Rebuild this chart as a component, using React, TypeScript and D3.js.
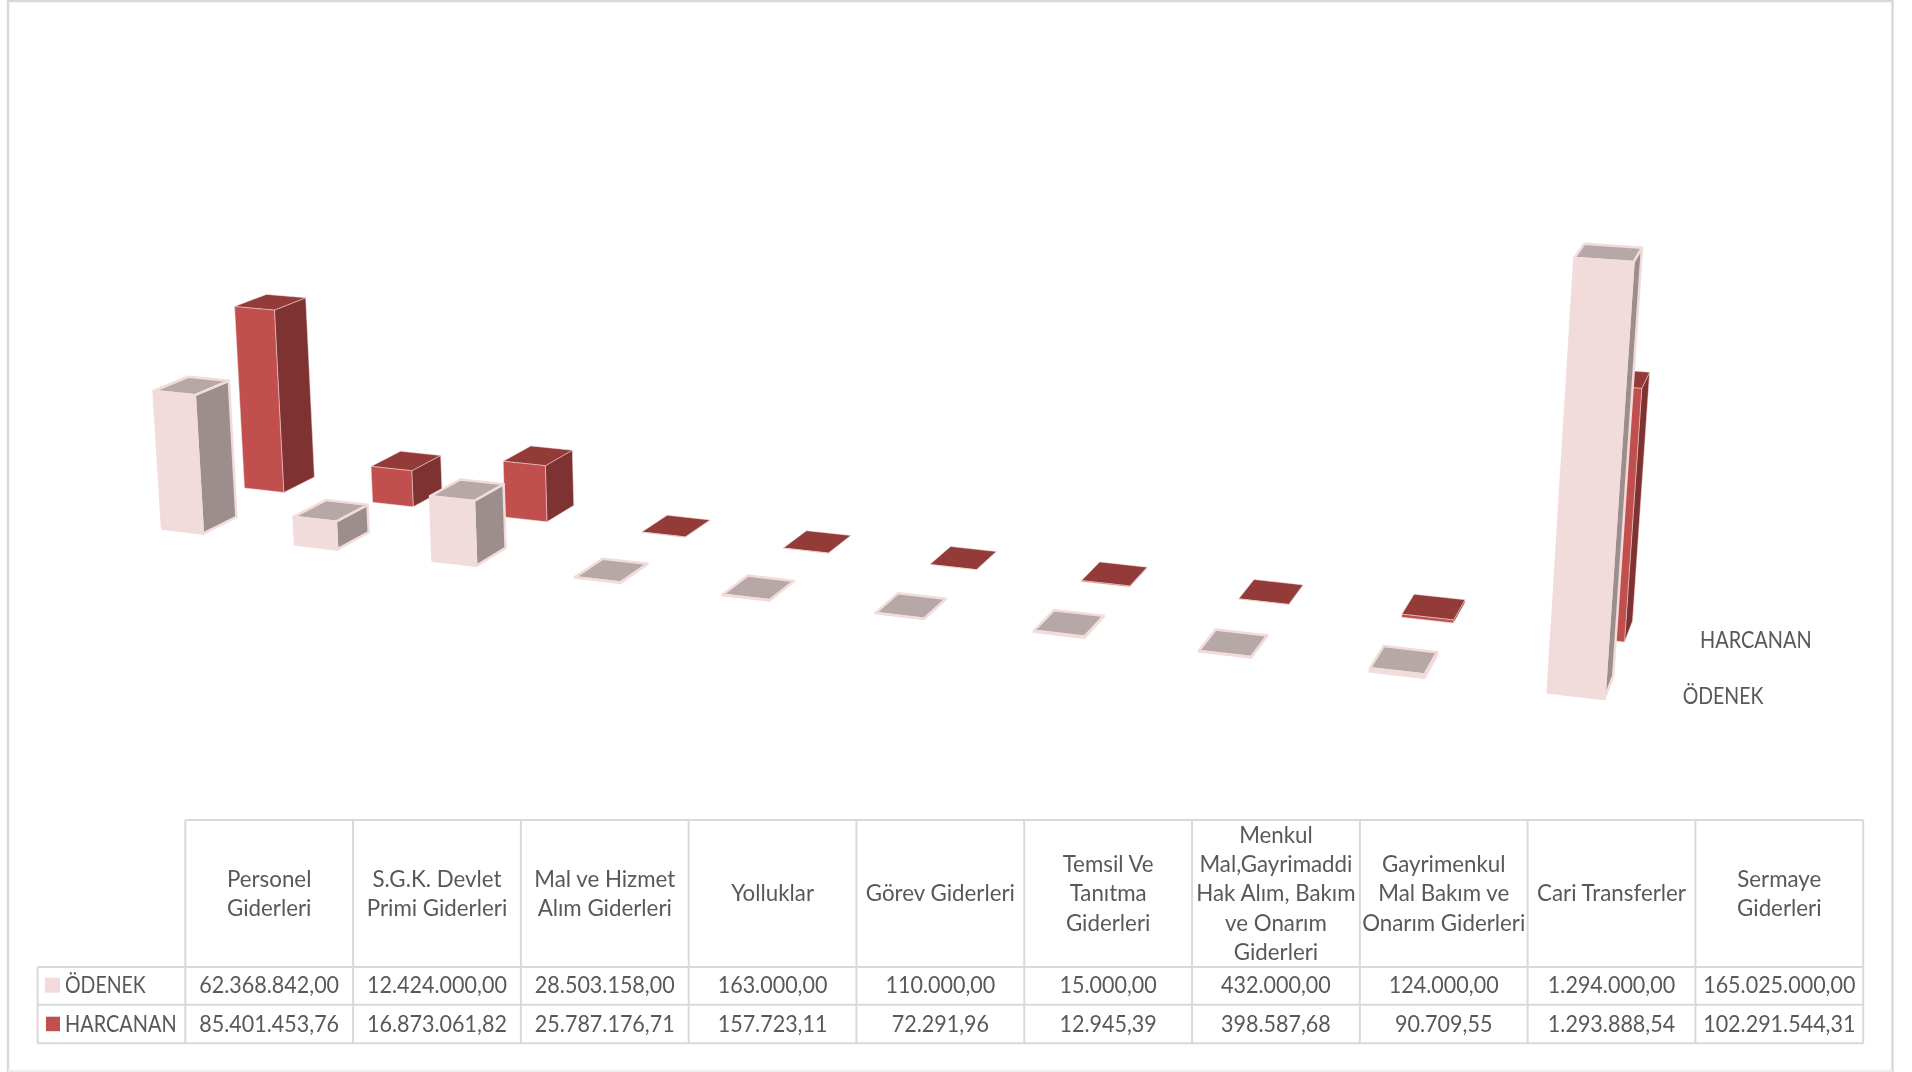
import React from "react";
import * as d3 from "d3";

const categories = [
  ["Personel", "Giderleri"],
  ["S.G.K. Devlet", "Primi Giderleri"],
  ["Mal ve Hizmet", "Alım Giderleri"],
  ["Yolluklar"],
  ["Görev Giderleri"],
  ["Temsil Ve", "Tanıtma", "Giderleri"],
  ["Menkul", "Mal,Gayrimaddi", "Hak Alım, Bakım", "ve Onarım", "Giderleri"],
  ["Gayrimenkul", "Mal Bakım ve", "Onarım Giderleri"],
  ["Cari Transferler"],
  ["Sermaye", "Giderleri"],
];
const categoryKeys = categories.map((c) => c.join(" "));
const odenek = [62368842.0, 12424000.0, 28503158.0, 163000.0, 110000.0, 15000.0, 432000.0, 124000.0, 1294000.0, 165025000.0];
const harcanan = [85401453.76, 16873061.82, 25787176.71, 157723.11, 72291.96, 12945.39, 398587.68, 90709.55, 1293888.54, 102291544.31];
const seriesNames = ["ÖDENEK", "HARCANAN"];

const styles = [
  { front: "#F2DCDB", side: "#9B8E8D", top: "#B7A8A8", stroke: "#F2DCDB", sw: 2.5, inset: 0.008 },
  { front: "#C0504D", side: "#7F3130", top: "#923A38", stroke: "#F2DCDB", sw: 0.5, inset: 0 },
];

// Pinhole camera: world (X category, Y value in millions, Z series depth) to screen
const cam = {
  u: [127.96, -0.1673, 95.74, 160.4],
  v: [6.54, -2.285, -17.77, 529],
  w: [-0.01682, -0.0001935, 0.0476, 1],
};
const project = (X: number, Y: number, Z: number): [number, number] => {
  const d = cam.w[0] * X + cam.w[1] * Y + cam.w[2] * Z + cam.w[3];
  return [
    (cam.u[0] * X + cam.u[1] * Y + cam.u[2] * Z + cam.u[3]) / d,
    (cam.v[0] * X + cam.v[1] * Y + cam.v[2] * Z + cam.v[3]) / d,
  ];
};

const BAR_W = 0.31;
const BAR_D = 0.395;
const xWorld = d3.scalePoint<string>().domain(categoryKeys).range([0, 9]);
const zWorld = d3.scalePoint<string>().domain(seriesNames).range([0, 1]);
const yWorld = d3.scaleLinear().domain([0, 1e6]).range([0, 1]);
const poly = d3.line<[number, number]>().curve(d3.curveLinearClosed);

const fmt = d3.formatLocale({ decimal: ",", thousands: ".", grouping: [3], currency: ["", ""] }).format(",.2f");

const colX = d3.scaleBand<string>().domain(categoryKeys).range([185.3, 1863.2]);
const LEFT = 37.6, T0 = 820, T1 = 967, T2 = 1004.7, T3 = 1043.3;
const LINE = 29.3, MID = 901.2;
const SX_HEAD = 0.93, SX_NUM = 0.897, SX_CAPS = 0.83;
const FONT = "Lato, 'Open Sans', sans-serif";

function Label({ x, y, sx, anchor = "middle", children }: any) {
  return (
    <text transform={`translate(${x},${y}) scale(${sx},1)`} textAnchor={anchor} fontFamily={FONT} fontSize={24} fill="#595959">
      {children}
    </text>
  );
}

function Bar({ cat, series, value }: { cat: string; series: string; value: number }) {
  const s = styles[seriesNames.indexOf(series)];
  const x0 = xWorld(cat)! + s.inset;
  const x1 = x0 + BAR_W;
  const z0 = zWorld(series)! + s.inset;
  const z1 = z0 + BAR_D;
  const h = yWorld(value);
  const f = (pts: [number, number, number][]) => poly(pts.map((p) => project(p[0], p[1], p[2])))!;
  const common = { stroke: s.stroke, strokeWidth: s.sw, strokeLinejoin: "round" as const };
  return (
    <g>
      <path d={f([[x1, 0, z0], [x1, 0, z1], [x1, h, z1], [x1, h, z0]])} fill={s.side} {...common} />
      <path d={f([[x0, h, z0], [x1, h, z0], [x1, h, z1], [x0, h, z1]])} fill={s.top} {...common} />
      <path d={f([[x0, 0, z0], [x1, 0, z0], [x1, h, z0], [x0, h, z0]])} fill={s.front} {...common} />
    </g>
  );
}

export default function App() {
  const grid = "#D9D9D9";
  return (
    <svg width={1912} height={1072} style={{ position: "fixed", left: 0, top: 0, background: "#fff" }}>
      <defs>
        <filter id="soft" x="0" y="0" width="100%" height="100%">
          <feGaussianBlur stdDeviation="0.45" />
        </filter>
      </defs>
      <g filter="url(#soft)">
        <rect width={1912} height={1072} fill="#fff" />
        <g stroke={grid} strokeWidth={2.5} fill="none">
          <line x1={8} y1={0} x2={8} y2={1072} />
          <line x1={1892.5} y1={0} x2={1892.5} y2={1072} />
          <line x1={8} y1={1} x2={1892.5} y2={1} />
          <line x1={8} y1={1071} x2={1892.5} y2={1071} stroke="#EEEEEE" />
        </g>

        {categoryKeys.map((c, i) => <Bar key={c} cat={c} series={seriesNames[1]} value={harcanan[i]} />)}
        {categoryKeys.map((c, i) => <Bar key={c} cat={c} series={seriesNames[0]} value={odenek[i]} />)}

        <Label x={1700} y={647.6} sx={SX_CAPS} anchor="start">HARCANAN</Label>
        <Label x={1682.7} y={703.6} sx={0.812} anchor="start">ÖDENEK</Label>

        <g stroke={grid} strokeWidth={2}>
          <line x1={colX.range()[0]} x2={colX.range()[1]} y1={T0} y2={T0} />
          {[T1, T2, T3].map((y) => <line key={y} x1={LEFT} x2={colX.range()[1]} y1={y} y2={y} />)}
          <line x1={LEFT} x2={LEFT} y1={T1} y2={T3} />
          {categoryKeys.map((c) => <line key={c} x1={colX(c)} x2={colX(c)} y1={T0} y2={T3} />)}
          <line x1={colX.range()[1]} x2={colX.range()[1]} y1={T0} y2={T3} />
        </g>

        {categories.map((lines, i) => {
          const cx = colX(categoryKeys[i])! + colX.bandwidth() / 2;
          return (
            <g key={i}>
              {lines.map((t, k) => (
                <Label key={k} x={cx} sx={SX_HEAD} y={MID + (k - (lines.length - 1) / 2) * LINE}>{t}</Label>
              ))}
              <Label x={cx} sx={SX_NUM} y={993.4}>{fmt(odenek[i])}</Label>
              <Label x={cx} sx={SX_NUM} y={1031.6}>{fmt(harcanan[i])}</Label>
            </g>
          );
        })}

        <rect x={45} y={977.7} width={15} height={15} fill={styles[0].front} />
        <rect x={46} y={1016.7} width={14} height={14.5} fill={styles[1].front} />
        <Label x={65} y={992.6} sx={0.812} anchor="start">{seriesNames[0]}</Label>
        <Label x={65} y={1031.6} sx={SX_CAPS} anchor="start">{seriesNames[1]}</Label>
      </g>
    </svg>
  );
}
